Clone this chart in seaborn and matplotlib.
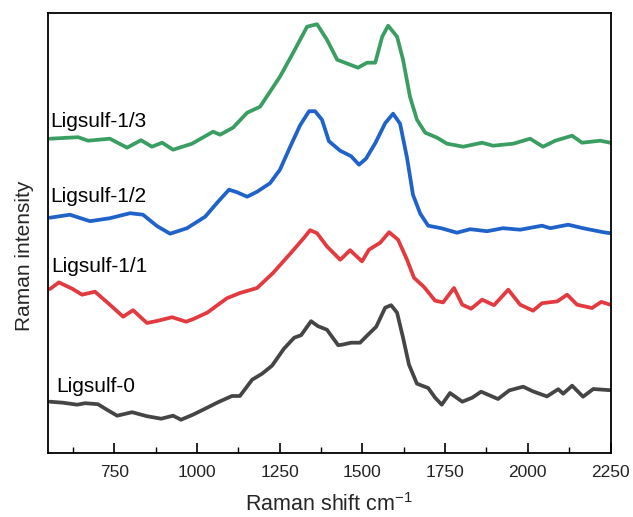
import matplotlib
matplotlib.use("Agg")
import matplotlib.pyplot as plt
import seaborn as sns
import pandas as pd

# ---- data (intensity in arbitrary units) ----
w_13 = [556, 641, 671, 737, 789, 831, 864, 895, 928, 985, 1049, 1070, 1109, 1152, 1191,
        1251, 1291, 1333, 1363, 1393, 1424, 1463, 1487, 1514, 1539, 1560, 1578, 1605,
        1623, 1644, 1665, 1690, 1726, 1756, 1805, 1862, 1895, 1956, 2007, 2046, 2083,
        2134, 2164, 2219, 2249]
i_13 = [314, 315.5, 312, 314, 305, 312.5, 306, 310, 303, 309, 321, 318, 325, 340, 346,
        376, 400, 426, 428.5, 413, 393, 388, 385, 390, 390, 416, 427, 416,
        393, 356, 333, 320, 315, 309, 306, 310, 307, 309, 314, 306, 312,
        317, 310, 312, 310]

w_12 = [556, 616, 677, 737, 798, 837, 880, 919, 970, 1025, 1064, 1097, 1121, 1152, 1182,
        1221, 1251, 1282, 1312, 1339, 1357, 1378, 1399, 1433, 1448, 1466, 1490, 1511,
        1539, 1569, 1593, 1614, 1635, 1653, 1675, 1699, 1738, 1786, 1826, 1877, 1925,
        1977, 2043, 2068, 2122, 2167, 2228, 2249]
i_12 = [235, 238, 231.5, 234.5, 239.5, 238, 226.5, 219, 224.5, 236, 251, 263, 260.5, 256, 261,
        269.5, 283, 306, 327.5, 341.5, 341.5, 333, 311.5, 302, 299.5, 296.5, 288, 294,
        309.5, 329.5, 339, 329, 295, 258, 239, 227, 224.5, 220, 223.5, 221.5, 224.5,
        223, 227, 224.5, 228, 224.5, 220.5, 219.5]

w_11 = [556, 583, 623, 653, 692, 737, 777, 807, 849, 883, 925, 967, 988, 1031, 1091, 1130,
        1182, 1230, 1282, 1324, 1342, 1363, 1393, 1433, 1439, 1463, 1499, 1520, 1554,
        1581, 1608, 1635, 1656, 1687, 1720, 1744, 1777, 1802, 1829, 1862, 1898, 1941,
        1977, 2016, 2043, 2089, 2119, 2149, 2194, 2222, 2249]
i_11 = [163.7, 170.3, 164, 158, 161, 148, 136, 142.5, 129.7, 132, 135.5, 131, 133.5, 140,
        154.5, 159.7, 164.7, 179.7, 199, 215, 222.5, 219.5, 206.3, 193, 194.7, 202.5,
        191.3, 203, 210, 220.5, 213, 193, 175, 165.5, 152, 150.3, 164.7, 148, 144, 153,
        147.5, 163, 148, 142, 149.5, 151.3, 158, 148, 144.7, 150.8, 148]

w_0 = [556, 595, 638, 662, 701, 728, 759, 804, 849, 892, 928, 952, 988, 1028, 1064, 1106,
       1130, 1167, 1197, 1227, 1263, 1294, 1315, 1345, 1366, 1393, 1427, 1439, 1466, 1493,
       1514, 1542, 1569, 1587, 1605, 1623, 1641, 1665, 1699, 1720, 1740, 1765, 1802, 1832,
       1859, 1910, 1944, 1986, 2016, 2058, 2092, 2107, 2134, 2167, 2198, 2249]
i_0 = [51, 50, 48, 49.5, 48.5, 43, 37, 40.5, 36.5, 34, 37, 33, 38, 44.5, 50.5, 56.7,
       56.7, 73, 79, 87, 104, 115, 117.5, 131.5, 126.5, 123, 107.5, 108, 110, 110,
       117, 126, 145, 147.5, 140, 115, 88, 69, 64.7, 55, 48, 59.7, 51, 55,
       61, 53.7, 62.3, 66, 61.3, 56.3, 63.5, 59, 67, 56, 63.7, 62.5]

samples = ["Ligsulf-1/3", "Ligsulf-1/2", "Ligsulf-1/1", "Ligsulf-0"]
colors = ["#3a9e62", "#1f62c9", "#e23a3e", "#454545"]
label_x = [556, 556, 561, 576]
label_y = [326, 251, 181, 61]
xticks = [750, 1000, 1250, 1500, 1750, 2000, 2250]

series = [(w_13, i_13), (w_12, i_12), (w_11, i_11), (w_0, i_0)]
frames = []
for name, (w, i) in zip(samples, series):
    frames.append(pd.DataFrame({"shift": w, "intensity": i, "sample": name}))
df = pd.concat(frames, ignore_index=True)

sns.set_theme(style="white")
plt.rcParams["font.family"] = ["Liberation Sans", "DejaVu Sans"]
plt.rcParams["mathtext.fontset"] = "custom"
plt.rcParams["mathtext.rm"] = "Liberation Sans"
plt.rcParams["mathtext.default"] = "regular"
plt.rcParams["xtick.bottom"] = True
plt.rcParams["xtick.direction"] = "in"
plt.rcParams["xtick.major.size"] = 7
plt.rcParams["xtick.minor.size"] = 4
plt.rcParams["xtick.major.width"] = 1.2
plt.rcParams["xtick.minor.width"] = 1.0
plt.rcParams["xtick.color"] = "black"

fig = plt.figure(figsize=(6.33, 5.17), dpi=100)
ax = fig.add_axes([48 / 633, 1 - 452.7 / 517, (610.5 - 48) / 633, (452.7 - 12.7) / 517])

sns.lineplot(data=df, x="shift", y="intensity", hue="sample", hue_order=samples,
             palette=colors, linewidth=2.7, legend=False, ax=ax, sort=False,
             estimator=None, solid_joinstyle="round", solid_capstyle="round")

for name, c, lx, ly in zip(samples, colors, label_x, label_y):
    ax.text(lx, ly, name, fontsize=15, color="black", ha="left", va="baseline")

ax.set_xlim(550, 2250)
ax.set_ylim(0, 440)
ax.set_xticks(xticks)
ax.set_xticklabels([str(t) for t in xticks])
ax.set_xticks([625 + 250 * k for k in range(7)], minor=True)
ax.set_yticks([])
ax.tick_params(axis="x", which="major", direction="in", length=7, width=1.2,
               labelsize=12.5, pad=9, color="black", labelcolor="#222222",
               bottom=True)
ax.tick_params(axis="x", which="minor", direction="in", length=4, width=1.0,
               color="black", bottom=True)
for s in ax.spines.values():
    s.set_visible(True)
    s.set_color("black")
    s.set_linewidth(1.3)

ax.set_xlabel("Raman shift cm$^{-1}$", fontsize=15.5, labelpad=9)
ax.set_ylabel("Raman intensity", fontsize=15, labelpad=12)
ax.yaxis.set_label_coords(-0.025, 0.448)

fig.savefig("out.png", dpi=100)
